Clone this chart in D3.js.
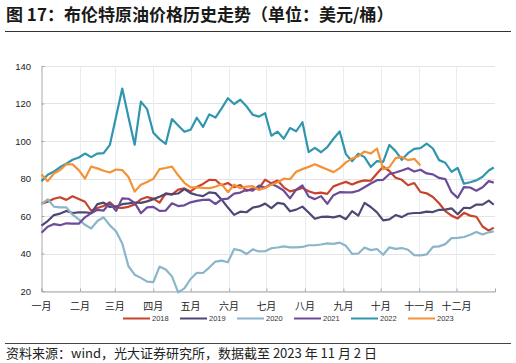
<!DOCTYPE html>
<html>
<head>
<meta charset="utf-8">
<script src="https://cdn.jsdelivr.net/npm/d3@7/dist/d3.min.js"></script>
<style>
  body { margin: 0; background: #fff; }
  svg { display: block; font-family: "Liberation Sans", Arial, "Noto Sans CJK SC", sans-serif; }
  .cjk { font-family: "Noto Sans CJK SC", sans-serif; }
</style>
</head>
<body>
<svg id="chart" width="516" height="363"></svg>
<script>
// sample days (offset from Jan 1)
var days = [0,5,10,15,20,25,30,35,40,45,50,55,60,65,70,75,80,85,90,95,
  100,105,110,115,120,125,130,135,140,145,150,155,160,165,170,175,180,185,190,195,
  200,205,210,215,220,225,230,235,240,245,250,255,260,265,270,275,280,285,290,295,
  300,305,310,315,320,325,330,335,340,345,350,355,360,364];

var months = ["一月","二月","三月","四月","五月","六月","七月","八月","九月","十月","十一月","十二月"];
var yTicks = [20, 40, 60, 80, 100, 120, 140];
var years = ["2018", "2019", "2020", "2021", "2022", "2023"];
var colors = ["#c9422a", "#4d4873", "#8ab5ca", "#6c4b98", "#2f96ae", "#f59237"];

var v2018 = [66.6,67.6,69.2,70.0,68.6,70.5,69.1,67.6,62.8,64.3,
  65.3,67.3,64.4,64.3,64.9,66.2,68.9,70.1,69.3,67.1,
  72.1,71.4,74.1,74.7,73.1,75.5,77.1,79.3,79.2,76.4,
  77.6,75.4,76.5,73.4,74.7,74.7,79.4,77.4,78.9,75.3,
  73.1,73.9,75.0,73.2,72.1,72.5,71.8,75.8,77.1,78.2,
  76.8,78.2,79.0,78.8,82.7,86.3,84.0,80.4,79.3,76.4,
  77.6,72.8,72.1,70.1,66.8,62.6,60.2,58.7,61.7,60.2,
  59.6,54.4,52.2,53.8];
var v2019 = [54.9,57.3,60.5,61.3,62.7,61.6,61.9,62.0,61.5,66.3,
  67.1,64.8,65.1,66.3,66.7,67.2,67.0,67.8,69.0,70.3,
  71.8,71.7,72.0,74.3,72.2,71.2,70.6,72.6,72.2,68.7,
  64.5,60.6,62.3,62.0,64.5,65.1,66.6,64.2,67.0,66.5,
  62.5,63.4,65.0,61.9,58.5,59.5,59.7,59.3,60.1,58.3,
  62.6,60.2,67.0,64.8,61.9,57.7,58.2,60.5,59.4,61.2,
  61.6,61.7,62.3,62.1,63.3,63.4,64.1,60.9,64.4,64.2,
  66.1,66.1,68.2,66.0];
var v2020 = [66.3,68.9,65.0,64.6,64.6,60.7,58.2,55.3,53.3,57.3,
  59.3,55.0,51.9,45.3,33.2,28.7,27.0,25.0,24.7,33.0,
  31.5,27.8,19.3,21.4,26.4,29.7,29.6,32.5,35.7,36.2,
  35.3,42.3,41.7,39.7,42.2,41.1,41.2,42.8,43.2,43.8,
  43.3,43.3,43.5,44.4,44.4,44.8,45.4,45.1,45.8,44.1,
  39.8,40.0,43.2,41.8,42.4,39.3,43.3,42.5,42.9,42.0,
  39.1,39.0,39.5,43.5,43.8,45.0,48.2,48.3,48.8,50.0,
  51.5,50.1,51.3,51.8];
var v2021 = [51.1,54.3,55.7,55.1,56.1,55.9,55.9,59.3,61.5,63.3,
  62.9,66.9,62.7,69.4,69.2,67.0,61.5,64.6,64.9,62.7,
  62.9,66.8,65.3,65.7,67.3,68.1,68.6,68.7,66.4,68.9,
  69.3,71.9,72.5,74.0,73.5,76.2,75.1,77.2,75.6,73.5,
  69.4,74.1,76.3,70.4,69.0,70.6,66.5,71.1,72.7,72.6,
  72.6,73.5,75.3,77.3,79.1,79.3,82.4,83.2,84.3,85.5,
  83.7,84.7,82.7,82.2,80.3,79.7,72.7,69.7,75.4,75.2,
  73.5,75.3,78.6,77.8];
var v2022 = [78.5,82.0,83.7,86.1,87.9,90.0,91.2,93.3,91.4,93.3,
  93.5,97.9,112.9,128.0,112.7,98.0,121.0,117.0,104.4,101.0,
  98.5,111.7,108.3,104.9,106.0,112.4,107.5,114.2,112.5,117.4,
  122.8,119.7,122.0,118.5,114.0,113.0,114.8,102.8,105.0,101.2,
  106.9,105.2,110.0,94.1,96.3,94.0,96.7,101.2,105.1,93.0,
  89.2,93.2,91.4,86.2,89.3,88.9,97.9,94.6,90.0,93.5,
  95.8,96.2,98.6,96.0,89.8,88.4,83.6,85.6,77.2,78.0,
  79.0,80.9,84.3,85.9];
var v2023 = [82.1,78.6,82.7,84.5,87.6,87.5,84.5,80.0,86.4,85.4,
  84.1,83.2,84.8,84.5,80.8,73.0,76.7,78.1,79.8,85.0,
  85.6,86.3,81.7,77.7,75.3,75.3,75.0,74.9,75.6,77.0,
  72.7,76.7,74.8,75.7,75.9,73.9,74.9,76.7,78.0,79.9,
  79.6,83.6,85.0,86.2,87.6,86.2,84.8,83.4,85.5,88.6,
  90.6,91.9,94.4,93.3,96.0,85.0,86.0,90.9,91.5,89.8,
  90.5,86.9];

var series = [v2018, v2019, v2020, v2021, v2022, v2023];

var svg = d3.select("#chart");
var margin = { left: 41.5, right: 495, top: 66, bottom: 291 };
var start = new Date(2021, 0, 1);

var x = d3.scaleTime()
    .domain([start, new Date(2022, 0, 1)])
    .range([margin.left, margin.right]);
var y = d3.scaleLinear()
    .domain([20, 140])
    .range([margin.bottom, margin.top]);

var monthStarts = d3.timeMonth.range(start, new Date(2022, 0, 1));

// title
svg.append("text")
    .attr("class", "cjk")
    .attr("x", 6)
    .attr("y", 21)
    .attr("font-size", 17)
    .attr("font-weight", "bold")
    .attr("fill", "#1a1a1a")
    .text("图 17：布伦特原油价格历史走势（单位：美元/桶）");
svg.append("line")
    .attr("x1", 5).attr("x2", 511)
    .attr("y1", 31.5).attr("y2", 31.5)
    .attr("stroke", "#333").attr("stroke-width", 1);

// grid
svg.append("g").selectAll("line")
    .data(yTicks)
    .enter().append("line")
    .attr("x1", margin.left).attr("x2", margin.right)
    .attr("y1", function (d) { return Math.round(y(d)) + 0.5; })
    .attr("y2", function (d) { return Math.round(y(d)) + 0.5; })
    .attr("stroke", "#e4e4e4");
svg.append("g").selectAll("line")
    .data(monthStarts.slice(1))
    .enter().append("line")
    .attr("x1", function (d) { return Math.round(x(d)) + 0.5; })
    .attr("x2", function (d) { return Math.round(x(d)) + 0.5; })
    .attr("y1", margin.top).attr("y2", margin.bottom)
    .attr("stroke", "#e6edf3");

// axes
var gy = svg.append("g")
    .attr("transform", "translate(" + margin.left + ",0)")
    .call(d3.axisRight(y).tickValues(yTicks).tickSize(3).tickFormat(""));
gy.select(".domain").attr("stroke", "#a8a8a8");
gy.selectAll(".tick line").attr("stroke", "#a8a8a8");

var gx = svg.append("g")
    .attr("transform", "translate(0," + (margin.bottom + 0.5) + ")")
    .call(d3.axisTop(x).tickValues(monthStarts).tickSize(3).tickFormat(""));
gx.select(".domain").attr("stroke", "#a8a8a8");
gx.selectAll(".tick line").attr("stroke", "#a8a8a8");

svg.append("g").selectAll("text")
    .data(yTicks)
    .enter().append("text")
    .attr("x", 31)
    .attr("y", function (d) { return y(d) + 3.5; })
    .attr("text-anchor", "end")
    .attr("font-size", 9.5)
    .attr("fill", "#222")
    .text(function (d) { return d; });

svg.append("g").selectAll("text")
    .data(monthStarts)
    .enter().append("text")
    .attr("class", "cjk")
    .attr("x", function (d) { return x(d); })
    .attr("y", 310)
    .attr("text-anchor", "middle")
    .attr("font-size", 10)
    .attr("fill", "#222")
    .text(function (d, i) { return months[i]; });

// lines
var line = d3.line()
    .x(function (d, i) { return x(d3.timeDay.offset(start, days[i])); })
    .y(function (d) { return y(d); });

svg.append("g").selectAll("path")
    .data(series)
    .enter().append("path")
    .attr("d", function (d) { return line(d); })
    .attr("fill", "none")
    .attr("stroke", function (d, i) { return colors[i]; })
    .attr("stroke-width", 2.2)
    .attr("stroke-linejoin", "round");

// legend
var lg = svg.append("g").selectAll("g")
    .data(years)
    .enter().append("g")
    .attr("transform", function (d, i) { return "translate(" + (123 + i * 57) + ",318.5)"; });
lg.append("line")
    .attr("x1", 0).attr("x2", 27)
    .attr("stroke", function (d, i) { return colors[i]; })
    .attr("stroke-width", 2);
lg.append("text")
    .attr("x", 29)
    .attr("y", 2.5)
    .attr("font-size", 7.5)
    .attr("fill", "#333")
    .text(function (d) { return d; });

// source
svg.append("line")
    .attr("x1", 5).attr("x2", 511)
    .attr("y1", 343.5).attr("y2", 343.5)
    .attr("stroke", "#444").attr("stroke-width", 1);
svg.append("text")
    .attr("class", "cjk")
    .attr("x", 6)
    .attr("y", 357.5)
    .attr("font-size", 13)
    .attr("fill", "#222")
    .text("资料来源：wind，光大证券研究所，数据截至 2023 年 11 月 2 日");
</script>
</body>
</html>
